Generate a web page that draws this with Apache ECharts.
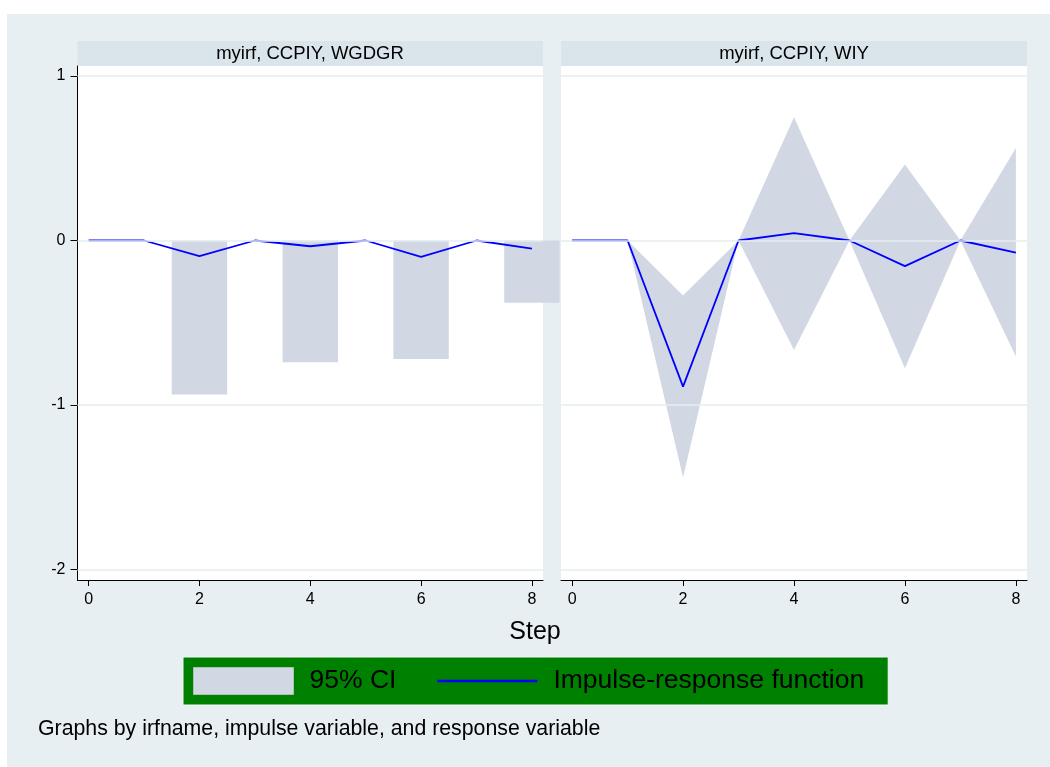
<!DOCTYPE html>
<html>
<head>
<meta charset="utf-8">
<script src="https://cdn.jsdelivr.net/npm/echarts@6/dist/echarts.min.js"></script>
<style>
html,body{margin:0;padding:0;background:#ffffff;}
#chart{width:1050px;height:767px;}
</style>
</head>
<body>
<div id="chart"></div>
<script>
// ---- data ----
const steps = [0, 1, 2, 3, 4, 5, 6, 7, 8];
const xTicks = [0, 2, 4, 6, 8];
const yTicks = [-2, -1, 0, 1];
const panelTitles = ['myirf, CCPIY, WGDGR', 'myirf, CCPIY, WIY'];
// Panel 1: response WGDGR
const irf1   = [0, 0, -0.095, 0, -0.035, 0, -0.099, 0, -0.049];
const ciLo1  = [0, 0, -0.936, 0, -0.74, 0, -0.72, 0, -0.379];
const ciHi1  = [0, 0, 0, 0, 0, 0, 0, 0, 0];
// Panel 2: response WIY
const irf2   = [0, 0, -0.888, 0, 0.045, 0, -0.156, 0, -0.073];
const ciLo2  = [0, 0, -1.44, 0, -0.665, 0, -0.776, 0, -0.705];
const ciHi2  = [0, 0, -0.334, 0, 0.75, 0, 0.462, 0, 0.563];

const CI_COLOR = '#d2d8e3';
const LINE_COLOR = '#0000ff';
const BG = '#e8eff2';
const STRIP = '#d9e5eb';
const GRIDLINE = '#e6eef0';
const FONT = '"Liberation Sans", Arial, sans-serif';

const chart = echarts.init(document.getElementById('chart'), null, {renderer: 'canvas'});

const grids = [
  {left: 77.5, top: 66, width: 465.5, height: 514},
  {left: 561, top: 66, width: 466, height: 514}
];

function xAxisDef(i) {
  return {
    type: 'value', gridIndex: i, min: -0.2, max: 8.2,
    axisLine: {show: true, onZero: false, lineStyle: {color: '#000', width: 1}},
    axisTick: {show: true, length: 6, customValues: xTicks, lineStyle: {color: '#000'}},
    axisLabel: {show: true, customValues: xTicks, margin: 12, fontSize: 16, color: '#000', fontFamily: FONT},
    splitLine: {show: false}
  };
}
function yAxisDef(i) {
  const show = i === 0;
  return {
    type: 'value', gridIndex: i, min: -2.0638, max: 1.0608,
    axisLine: {show: show, onZero: false, lineStyle: {color: '#000', width: 1}},
    axisTick: {show: show, length: 7, customValues: yTicks, lineStyle: {color: '#000'}},
    axisLabel: {show: show, customValues: yTicks, margin: 12, fontSize: 16, color: '#000', fontFamily: FONT},
    splitLine: {show: false}
  };
}

function gridLineSeries(i) {
  return {
    type: 'line', xAxisIndex: i, yAxisIndex: i, data: [], silent: true, z: 0,
    markLine: {
      silent: true, symbol: ['none', 'none'], label: {show: false},
      lineStyle: {color: GRIDLINE, width: 1.5, type: 'solid'},
      data: yTicks.map(v => ({yAxis: v}))
    }
  };
}

// panel 1 CI drawn as bars spanning each step (lower..upper)
const ciBars = {
  type: 'custom', name: '95% CI', xAxisIndex: 0, yAxisIndex: 0, z: 1, clip: false,
  itemStyle: {color: CI_COLOR},
  data: steps.map((s, i) => [s, ciLo1[i], ciHi1[i]]),
  renderItem: function (params, api) {
    const x = api.value(0), lo = api.value(1), hi = api.value(2);
    const p1 = api.coord([x - 0.5, hi]);
    const p2 = api.coord([x + 0.5, lo]);
    return {
      type: 'rect',
      shape: {x: p1[0], y: p1[1], width: p2[0] - p1[0], height: p2[1] - p1[1]},
      style: {fill: CI_COLOR}
    };
  }
};

// panel 2 CI drawn as a band polygon
const ciArea = {
  type: 'custom', name: '95% CI', xAxisIndex: 1, yAxisIndex: 1, z: 1,
  itemStyle: {color: CI_COLOR},
  data: steps.map((s, i) => [s, ciLo2[i], ciHi2[i]]),
  renderItem: function (params, api) {
    if (params.dataIndex !== 0) return null;
    const pts = [];
    for (let i = 0; i < steps.length; i++) pts.push(api.coord([steps[i], ciHi2[i]]));
    for (let i = steps.length - 1; i >= 0; i--) pts.push(api.coord([steps[i], ciLo2[i]]));
    return {type: 'polygon', shape: {points: pts}, style: {fill: CI_COLOR}};
  }
};

function irfSeries(i, vals) {
  return {
    type: 'line', name: 'Impulse-response function', xAxisIndex: i, yAxisIndex: i, z: 3,
    data: steps.map((s, k) => [s, vals[k]]),
    symbol: 'none', lineStyle: {color: LINE_COLOR, width: 1.8}, itemStyle: {color: LINE_COLOR},
    animation: false
  };
}

const option = {
  animation: false,
  backgroundColor: '#ffffff',
  grid: grids.map(g => Object.assign({show: true, backgroundColor: '#ffffff', borderWidth: 0}, g)),
  xAxis: [xAxisDef(0), xAxisDef(1)],
  yAxis: [yAxisDef(0), yAxisDef(1)],
  legend: {
    left: 183, top: 657,
    padding: [10, 24, 10, 10],
    backgroundColor: '#008000',
    borderColor: '#f2f7f2', borderWidth: 1,
    itemWidth: 100, itemHeight: 27, itemGap: 41,
    symbolKeepAspect: true,
    textStyle: {fontSize: 26.5, color: '#000', fontFamily: FONT, padding: [0, 0, 0, 11]},
    data: [
      {name: '95% CI', icon: 'rect', itemStyle: {color: CI_COLOR, borderColor: '#a8c4ac', borderWidth: 1}},
      {name: 'Impulse-response function', icon: 'path://M0,0 L100,0 L100,2.6 L0,2.6 Z',
       itemStyle: {color: LINE_COLOR, borderWidth: 0}}
    ],
    selectedMode: false
  },
  graphic: [
    {type: 'rect', z: -10, shape: {x: 7, y: 14, width: 1043, height: 753}, style: {fill: BG}},
    {type: 'rect', z: -5, shape: {x: 77.5, y: 41, width: 465.5, height: 25}, style: {fill: STRIP}},
    {type: 'rect', z: -5, shape: {x: 561, y: 41, width: 466, height: 25}, style: {fill: STRIP}},
    {type: 'text', z: 10, x: 310, y: 53.5, style: {text: panelTitles[0], fontSize: 18.5, fontFamily: FONT, fill: '#000', align: 'center', verticalAlign: 'middle'}},
    {type: 'text', z: 10, x: 794, y: 53.5, style: {text: panelTitles[1], fontSize: 18.5, fontFamily: FONT, fill: '#000', align: 'center', verticalAlign: 'middle'}},
    {type: 'text', z: 10, x: 535, y: 632, style: {text: 'Step', fontSize: 25, fontFamily: FONT, fill: '#000', align: 'center', verticalAlign: 'middle'}},
    {type: 'text', z: 10, x: 38, y: 729, style: {text: 'Graphs by irfname, impulse variable, and response variable', fontSize: 21.3, fontFamily: FONT, fill: '#000', align: 'left', verticalAlign: 'middle'}}
  ],
  series: [
    gridLineSeries(0), gridLineSeries(1),
    ciBars, ciArea,
    irfSeries(0, irf1), irfSeries(1, irf2)
  ]
};
chart.setOption(option);
</script>
</body>
</html>
